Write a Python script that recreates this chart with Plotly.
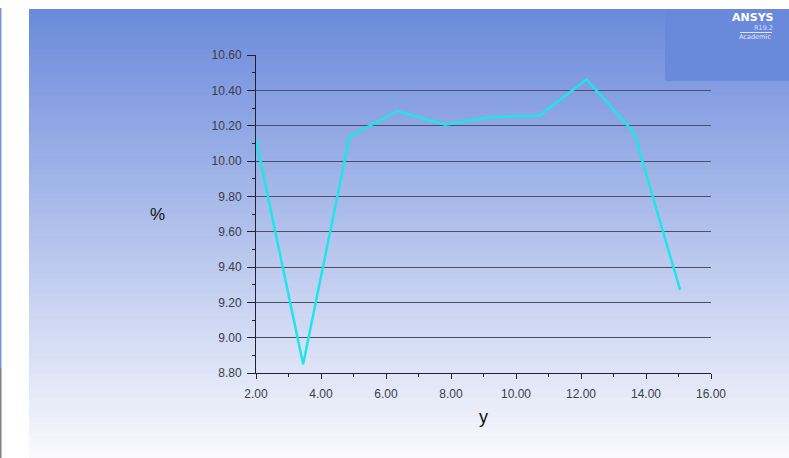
import plotly.graph_objects as go

# ---- data ----
x_vals = [2.0, 3.45, 4.88, 6.35, 7.82, 9.28, 10.72, 12.17, 13.63, 15.05]
pct_vals = [10.12, 8.85, 10.138, 10.283, 10.205, 10.249, 10.256, 10.462, 10.16, 9.27]
x_ticks = [2, 4, 6, 8, 10, 12, 14, 16]
x_tick_text = ["2.00", "4.00", "6.00", "8.00", "10.00", "12.00", "14.00", "16.00"]
y_ticks = [8.8, 9.0, 9.2, 9.4, 9.6, 9.8, 10.0, 10.2, 10.4, 10.6]
y_tick_text = ["8.80", "9.00", "9.20", "9.40", "9.60", "9.80", "10.00", "10.20", "10.40", "10.60"]

W, H = 789, 458
L, R, T, B = 256, 711, 55, 373  # plot area in pixels


def px2paper_x(px):
    return (px - L) / (R - L)


def px2paper_y(py):
    return (B - py) / (B - T)


shapes = []
# gradient background (styling only)
top_c = (107, 138, 220)
bot_c = (250, 250, 253)
y0, y1 = 9, 458
n = 90
step = (y1 - y0) / n
for i in range(n):
    a = y0 + i * step
    b = a + step + 0.8
    f = (i + 0.5) / n
    c = tuple(round(top_c[k] + (bot_c[k] - top_c[k]) * f) for k in range(3))
    shapes.append(dict(type="rect", xref="paper", yref="paper",
                       x0=px2paper_x(29), x1=px2paper_x(789 + 2),
                       y0=px2paper_y(min(b, 460)), y1=px2paper_y(a),
                       fillcolor="rgb(%d,%d,%d)" % c, line=dict(width=0),
                       layer="below"))
# left border strips
shapes.append(dict(type="rect", xref="paper", yref="paper",
                   x0=px2paper_x(0), x1=px2paper_x(1.5),
                   y0=px2paper_y(368), y1=px2paper_y(8),
                   fillcolor="rgb(120,150,225)", line=dict(width=0), layer="below"))
shapes.append(dict(type="rect", xref="paper", yref="paper",
                   x0=px2paper_x(0), x1=px2paper_x(1.5),
                   y0=px2paper_y(460), y1=px2paper_y(368),
                   fillcolor="rgb(130,130,130)", line=dict(width=0), layer="below"))
# ANSYS logo box
shapes.append(dict(type="rect", xref="paper", yref="paper",
                   x0=px2paper_x(665), x1=px2paper_x(791),
                   y0=px2paper_y(81), y1=px2paper_y(9),
                   fillcolor="rgb(106,137,219)", line=dict(width=0), layer="above"))
shapes.append(dict(type="line", xref="paper", yref="paper",
                   x0=px2paper_x(740), x1=px2paper_x(772),
                   y0=px2paper_y(32.5), y1=px2paper_y(32.5),
                   line=dict(color="rgba(235,240,255,0.9)", width=1), layer="above"))

fig = go.Figure()
fig.add_trace(go.Scatter(x=x_vals, y=pct_vals, mode="lines",
                         line=dict(color="#1fe6e6", width=2.5), hoverinfo="x+y"))

tick_font = dict(family="Liberation Sans, Arial, sans-serif", size=12, color="#3a3e4a")

fig.update_layout(
    width=W, height=H,
    margin=dict(l=L, r=W - R, t=T, b=H - B, pad=0),
    paper_bgcolor="white",
    plot_bgcolor="rgba(0,0,0,0)",
    showlegend=False,
    shapes=shapes,
    xaxis=dict(range=[2, 16], tickvals=x_ticks, ticktext=x_tick_text,
               showgrid=False, zeroline=False,
               showline=True, linecolor="#1e2230", linewidth=1,
               ticks="outside", ticklen=5, tickcolor="#1e2230", tickwidth=1,
               ticklabelstandoff=5,
               minor=dict(dtick=1, ticks="outside", ticklen=3, tickcolor="#1e2230", showgrid=False),
               tickfont=tick_font, fixedrange=True),
    yaxis=dict(range=[8.8, 10.6], tickvals=y_ticks, ticktext=y_tick_text,
               showgrid=True, gridcolor="#4a5068", gridwidth=1, zeroline=False,
               showline=True, linecolor="#1e2230", linewidth=1,
               ticks="outside", ticklen=8, tickcolor="#1e2230", tickwidth=1,
               ticklabelstandoff=3,
               minor=dict(dtick=0.1, ticks="outside", ticklen=3, tickcolor="#1e2230", showgrid=False),
               tickfont=tick_font, fixedrange=True),
    annotations=[
        dict(text="%", xref="paper", yref="paper", x=px2paper_x(157), y=px2paper_y(214),
             showarrow=False, font=dict(family="Liberation Sans, Arial, sans-serif", size=17, color="#111111"),
             xanchor="center", yanchor="middle"),
        dict(text="y", xref="paper", yref="paper", x=px2paper_x(483), y=px2paper_y(417),
             showarrow=False, font=dict(family="Liberation Sans, Arial, sans-serif", size=18, color="#111111"),
             xanchor="center", yanchor="middle"),
        dict(text="<b>ANSYS</b>", xref="paper", yref="paper", x=px2paper_x(775), y=px2paper_y(18),
             showarrow=False, font=dict(family="DejaVu Sans, sans-serif", size=11, color="white"),
             xanchor="right", yanchor="middle", borderpad=0),
        dict(text="R19.2", xref="paper", yref="paper", x=px2paper_x(774), y=px2paper_y(28),
             showarrow=False, font=dict(family="DejaVu Sans, sans-serif", size=6.5, color="rgba(225,232,255,0.9)"),
             xanchor="right", yanchor="middle", borderpad=0),
        dict(text="Academic", xref="paper", yref="paper", x=px2paper_x(772), y=px2paper_y(37.5),
             showarrow=False, font=dict(family="DejaVu Sans, sans-serif", size=6.5, color="rgba(235,240,255,0.95)"),
             xanchor="right", yanchor="middle", borderpad=0),
    ],
)

fig.write_html("out.html", config=dict(displayModeBar=False),
               post_script="document.body.style.margin='0';")
